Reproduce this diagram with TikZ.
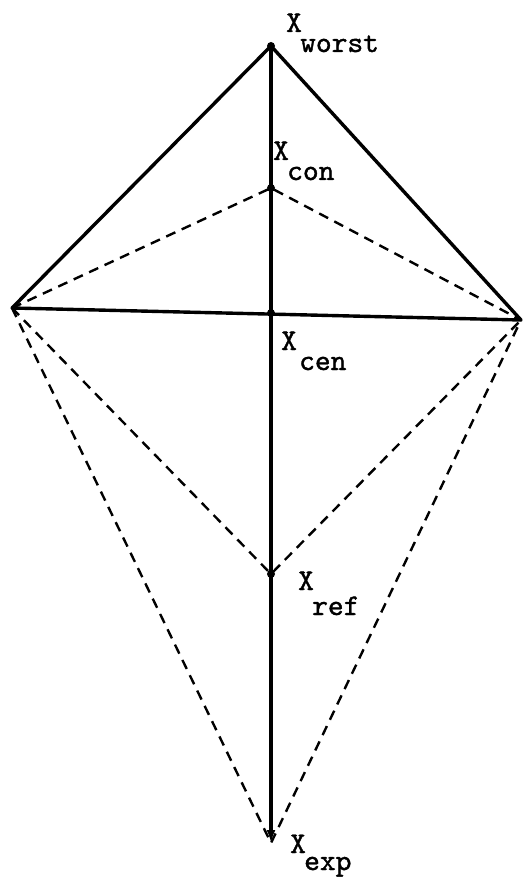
\documentclass[tikz,border=0pt]{standalone}
\usepackage{fontspec}
\newfontfamily\lblfont{lmmono10-regular.otf}[FakeBold=1.2]
\usetikzlibrary{arrows.meta}
\begin{document}
\begin{tikzpicture}[x=1pt,y=-1pt,
  solidline/.style={line width=3.4pt,line cap=round},
  dashline/.style={line width=2.4pt,dash pattern=on 10pt off 7pt},
  pt/.style={circle,fill=black,inner sep=0pt,minimum size=8pt},
  lbl/.style={font=\lblfont\fontsize{30}{30}\selectfont,inner sep=0pt,anchor=base west}]
\useasboundingbox (0,0) rectangle (524,877);
\coordinate (W) at (271,46);
\coordinate (L) at (12,308);
\coordinate (R) at (521,320);
\coordinate (C) at (271,313);
\coordinate (N) at (271,188);
\coordinate (F) at (271,574);
\coordinate (E) at (271,843);
% dashed
\draw[dashline] (L) -- (N) -- (R);
\draw[dashline] (L) -- (F) -- (R);
\draw[dashline] (L) -- (E) -- (R);
% solid
\draw[solidline] (L) -- (W) -- (R);
\draw[solidline] (L) -- (R);
\draw[line width=3.2pt,-{Latex[length=13pt,width=9pt]}] (W) -- (E);
\node[pt] (pw) at (W) {};
\node[pt] (pn) at (N) {};
\node[pt] (pc) at (C) {};
\node[pt] (pf) at (F) {};
% labels
\node[lbl] (xw) at (286,32) {X};
\node[lbl] (sw) at (300,52) {worst};
\node[lbl] (xn) at (273,160) {X};
\node[lbl] (sn) at (287,180) {con};
\node[lbl] (xc) at (281,350) {X};
\node[lbl] (sc) at (299,370) {cen};
\node[lbl] (xf) at (298,590) {X};
\node[lbl] (sf) at (312,615) {ref};
\node[lbl] (xe) at (290,853) {X};
\node[lbl] (se) at (304,870) {exp};
\end{tikzpicture}
\end{document}
